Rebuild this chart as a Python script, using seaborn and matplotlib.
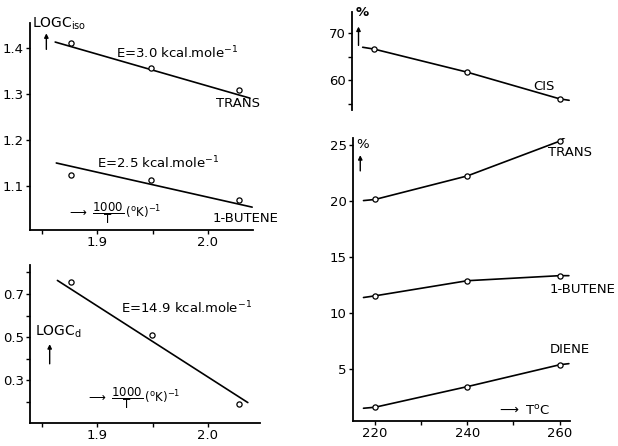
import numpy as np
import pandas as pd
import matplotlib
matplotlib.use("Agg")
import matplotlib.pyplot as plt
import seaborn as sns

# values
temps_c = [220, 240, 260]
inv_T = [1.876, 1.949, 2.028]          # 1000/T in 1/K

# left top: log C_iso
logc_trans = [1.411, 1.356, 1.309]
logc_butene = [1.124, 1.113, 1.070]
trans_fit_x = [1.862, 2.038]
trans_fit_y = [1.413, 1.291]
butene_fit_x = [1.863, 2.040]
butene_fit_y = [1.150, 1.054]

# left bottom: log C_d
logc_d = [0.754, 0.510, 0.187]
d_fit_x = [1.864, 2.036]
d_fit_y = [0.763, 0.196]

# right: percentages vs temperature, with the short end stubs of the drawn curves
stub_t = [217.5, 262.0]
pct_cis = [66.6, 61.7, 56.0]
cis_stub = [67.0, 55.7]
pct_trans = [20.1, 22.2, 25.3]
trans_stub = [20.0, 25.9]
pct_butene = [11.5, 12.85, 13.3]
butene_stub = [11.35, 13.3]
pct_diene = [1.56, 3.4, 5.35]
diene_stub = [1.47, 5.45]

sns.set_style("ticks")
plt.rcParams["font.family"] = ["DejaVu Sans"]
plt.rcParams["mathtext.fontset"] = "dejavusans"
plt.rcParams["axes.linewidth"] = 1.3
plt.rcParams["text.color"] = "black"

fs = 9.5
lw = 1.2


def style(ax):
    sns.despine(ax=ax)
    ax.tick_params(direction="out", length=3, width=1, labelsize=fs, pad=1.5, colors="black")
    for s in ["left", "bottom"]:
        ax.spines[s].set_color("black")


def points(ax, x, y):
    sns.scatterplot(x=x, y=y, ax=ax, s=14, marker="o", facecolor="white",
                    edgecolor="black", linewidth=0.9, zorder=5, legend=False)


def curve(ax, x, y, stub):
    xs = [stub_t[0]] + list(x) + [stub_t[1]]
    ys = [stub[0]] + list(y) + [stub[1]]
    sns.lineplot(x=xs, y=ys, ax=ax, color="black", lw=lw, sort=False)
    points(ax, x, y)


def up_arrow(ax, x, y0, y1):
    ax.annotate("", xy=(x, y1), xytext=(x, y0),
                arrowprops=dict(arrowstyle="-|>", color="black", lw=1, mutation_scale=6))


inv_label = r"$\longrightarrow\ \dfrac{1000}{\mathrm{T}}\,(^{\rm o}\mathrm{K})^{-1}$"

fig = plt.figure(figsize=(6.18, 4.46), dpi=100)

# ---- top left
ax1 = fig.add_axes([0.0485, 0.484, 0.3608, 0.464])
sns.lineplot(x=trans_fit_x, y=trans_fit_y, ax=ax1, color="black", lw=lw)
sns.lineplot(x=butene_fit_x, y=butene_fit_y, ax=ax1, color="black", lw=lw)
points(ax1, inv_T, logc_trans)
points(ax1, inv_T, logc_butene)
ax1.set_xlim(1.8392, 2.0407)
ax1.set_ylim(1.004, 1.454)
ax1.set_xticks([1.85, 1.9, 1.95, 2.0])
ax1.set_xticklabels(["", "1.9", "", "2.0"])
ax1.set_yticks([1.1, 1.2, 1.3, 1.4])
ax1.set_yticklabels(["1.1", "1.2", "1.3", "1.4"])
style(ax1)
ax1.text(1.841, 1.452, r"LOGC$_{\rm iso}$", fontsize=fs + 0.5, va="center", ha="left")
up_arrow(ax1, 1.854, 1.391, 1.438)
ax1.text(1.917, 1.389, r"E=3.0 kcal.mole$^{-1}$", fontsize=fs, va="center")
ax1.text(2.007, 1.280, "TRANS", fontsize=fs, va="center")
ax1.text(1.900, 1.150, r"E=2.5 kcal.mole$^{-1}$", fontsize=fs, va="center")
ax1.text(2.004, 1.030, "1-BUTENE", fontsize=fs, va="center")
ax1.text(1.873, 1.040, inv_label, fontsize=fs - 1, va="center")

# ---- bottom left
ax2 = fig.add_axes([0.0485, 0.052, 0.3722, 0.354])
sns.lineplot(x=d_fit_x, y=d_fit_y, ax=ax2, color="black", lw=lw)
points(ax2, inv_T, logc_d)
ax2.set_xlim(1.8392, 2.0470)
ax2.set_ylim(0.102, 0.835)
ax2.set_xticks([1.85, 1.9, 1.95, 2.0])
ax2.set_xticklabels(["", "1.9", "", "2.0"])
ax2.set_yticks([0.2, 0.3, 0.4, 0.5, 0.6, 0.7, 0.8])
ax2.set_yticklabels(["", "0.3", "", "0.5", "", "0.7", ""])
style(ax2)
ax2.text(1.921, 0.633, r"E=14.9 kcal.mole$^{-1}$", fontsize=fs, va="center")
ax2.text(1.844, 0.525, r"LOGC$_{\rm d}$", fontsize=fs + 0.5, va="center")
up_arrow(ax2, 1.857, 0.363, 0.480)
ax2.text(1.890, 0.215, inv_label, fontsize=fs - 1, va="center")

# ---- top right
ax3 = fig.add_axes([0.5696, 0.753, 0.3528, 0.220])
curve(ax3, temps_c, pct_cis, cis_stub)
ax3.set_xlim(215.2, 262.2)
ax3.set_ylim(53.6, 74.5)
ax3.set_yticks([55, 60, 65, 70])
ax3.set_yticklabels(["", "60", "", "70"])
ax3.set_xticks([])
style(ax3)
ax3.spines["bottom"].set_visible(False)
ax3.text(216.0, 74.3, "%", fontsize=fs, va="center", fontweight="bold")
up_arrow(ax3, 216.6, 66.8, 72.0)
ax3.text(254.2, 58.7, "CIS", fontsize=fs, va="center")

# ---- bottom right
ax4 = fig.add_axes([0.571, 0.056, 0.351, 0.635])
curve(ax4, temps_c, pct_trans, trans_stub)
curve(ax4, temps_c, pct_butene, butene_stub)
curve(ax4, temps_c, pct_diene, diene_stub)
ax4.set_xlim(215.2, 262.2)
ax4.set_ylim(0.33, 25.6)
ax4.set_xticks([220, 230, 240, 250, 260])
ax4.set_xticklabels(["220", "", "240", "", "260"])
ax4.set_yticks([5, 10, 15, 20, 25])
ax4.set_yticklabels(["5", "10", "15", "20", "25"])
style(ax4)
ax4.text(216.0, 25.0, "%", fontsize=fs, va="center")
up_arrow(ax4, 216.8, 22.4, 24.3)
ax4.text(257.4, 24.3, "TRANS", fontsize=fs, va="center")
ax4.text(257.8, 12.05, "1-BUTENE", fontsize=fs, va="center")
ax4.text(257.8, 6.7, "DIENE", fontsize=fs, va="center")
ax4.text(246.5, 1.2, r"$\longrightarrow$ T$^{\rm o}$C", fontsize=fs, va="center")

fig.savefig("out.png", dpi=100)
